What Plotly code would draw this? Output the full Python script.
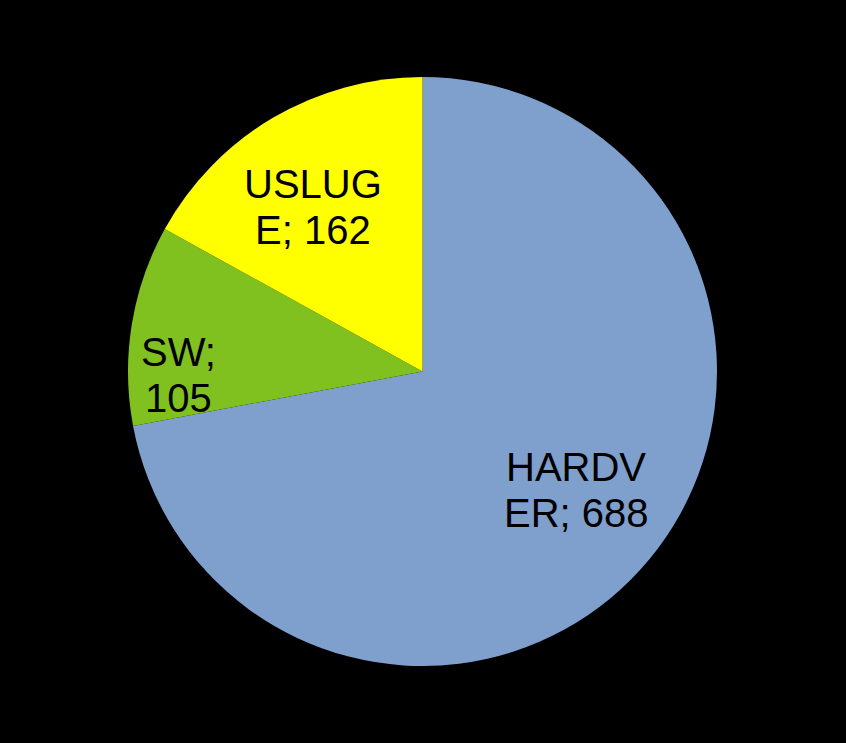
import math
import plotly.graph_objects as go

categories = ["HARDVER", "SW", "USLUGE"]
values = [688, 105, 162]
label_lines = [["HARDV", "ER; 688"], ["SW;", "105"], ["USLUG", "E; 162"]]
colors = ["#7F9FCC", "#80C11F", "#FFFF00"]
# label placement style: radius fraction and angular offset (degrees)
label_radius = [0.66, 0.83, 0.67]
label_angle_offset = [-2, -10, -3]

W, H = 846, 743
cx, cy, R = 422.5, 371.5, 294.5
line_gap = 23

fig = go.Figure(go.Pie(
    labels=categories,
    values=values,
    sort=False,
    direction="clockwise",
    rotation=0,
    marker=dict(colors=colors, line=dict(width=0)),
    textinfo="none",
    hoverinfo="label+value",
    showlegend=False,
    domain=dict(x=[(cx - R) / W, (cx + R) / W], y=[(H - cy - R) / H, (H - cy + R) / H]),
))

total = sum(values)
cum = 0
for v, lines, rf, da in zip(values, label_lines, label_radius, label_angle_offset):
    mid = (cum + v / 2) / total * 2 * math.pi + math.radians(da)
    cum += v
    px = cx + rf * R * math.sin(mid)
    py = cy - rf * R * math.cos(mid)
    n = len(lines)
    for i, ln in enumerate(lines):
        fig.add_annotation(
            x=px / W, y=(H - py) / H, xref="paper", yref="paper",
            xanchor="center", yanchor="middle",
            yshift=((n - 1) / 2 - i) * 2 * line_gap,
            text=ln, showarrow=False,
            font=dict(family="Liberation Sans, Arial, sans-serif", size=40, color="black"),
            align="center",
        )

fig.update_layout(
    width=W, height=H,
    margin=dict(l=0, r=0, t=0, b=0),
    paper_bgcolor="black",
    plot_bgcolor="black",
)

fig.write_html(
    "out.html",
    config={"displayModeBar": False},
    post_script="document.body.style.margin='0';document.body.style.background='black';",
)
